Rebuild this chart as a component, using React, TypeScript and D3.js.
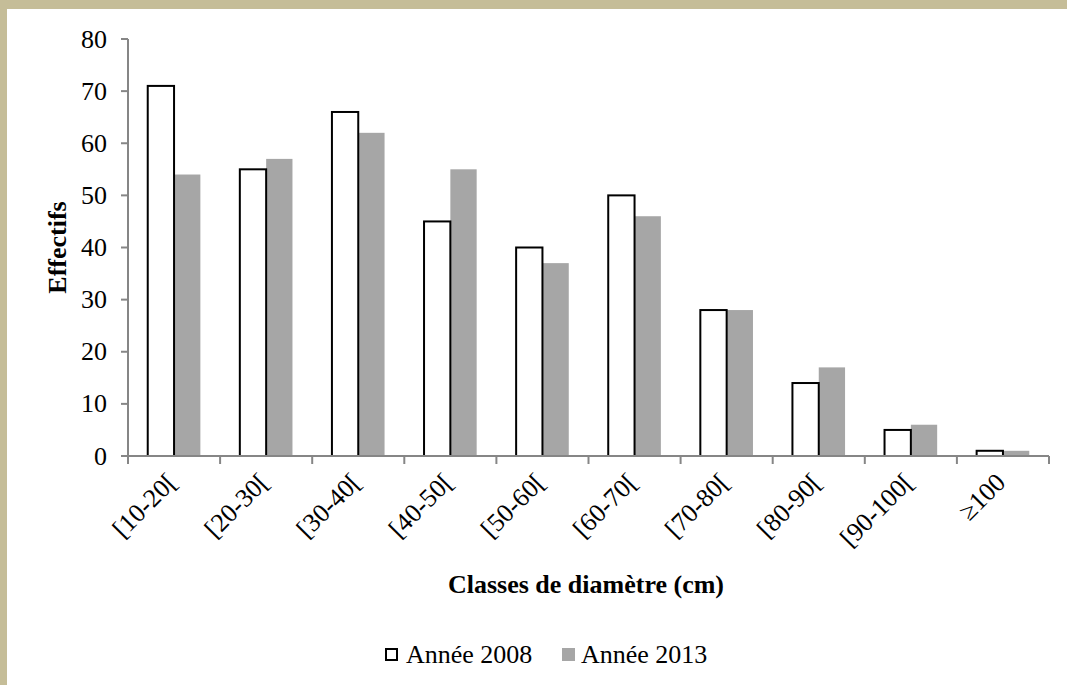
import React from "react";
import * as d3 from "d3";

const categories = ["[10-20[", "[20-30[", "[30-40[", "[40-50[", "[50-60[", "[60-70[", "[70-80[", "[80-90[", "[90-100[", "≥100"];
const values2008 = [71, 55, 66, 45, 40, 50, 28, 14, 5, 1];
const values2013 = [54, 57, 62, 55, 37, 46, 28, 17, 6, 1];
const seriesNames = ["Année 2008", "Année 2013"];
const yTicks = [0, 10, 20, 30, 40, 50, 60, 70, 80];

const W = 1067;
const H = 685;
const left = 128;
const right = 1049;
const top = 39;
const bottom = 456;
const FONT = "'Liberation Serif', 'Times New Roman', serif";
const AXIS = "#868686";
const GRAY = "#A6A6A6";

export default function App() {
  const x = d3.scaleBand<string>().domain(categories).range([left, right]).paddingInner(0).paddingOuter(0);
  const y = d3.scaleLinear().domain([0, 80]).range([bottom, top]);
  const bw = x.bandwidth();
  const barW = bw / 3.5;
  const inner = d3.scaleBand<string>().domain(["a", "b"]).range([bw / 2 - barW, bw / 2 + barW]);

  return (
    <svg width={W} height={H} style={{ position: "absolute", left: 0, top: 0, background: "#fff" }} fontFamily={FONT}>
      <rect x={0} y={0} width={W} height={H} fill="#fff" />
      <rect x={0} y={0} width={W} height={9} fill="#C5BD98" />
      <rect x={0} y={0} width={7} height={H} fill="#C5BD98" />

      {/* bars */}
      {categories.map((c, i) => {
        const x0 = x(c)!;
        const v1 = values2008[i];
        const v2 = values2013[i];
        return (
          <g key={c}>
            <rect x={x0 + inner("b")!} y={y(v2)} width={inner.bandwidth()} height={y(0) - y(v2)} fill={GRAY} />
            <rect x={x0 + inner("a")!} y={y(v1)} width={inner.bandwidth()} height={y(0) - y(v1)} fill="#fff" stroke="#000" strokeWidth={2} />
          </g>
        );
      })}

      {/* y axis */}
      <line x1={left} x2={left} y1={top} y2={bottom} stroke={AXIS} strokeWidth={2} />
      {yTicks.map((t) => (
        <g key={t}>
          <line x1={left - 7} x2={left} y1={y(t)} y2={y(t)} stroke={AXIS} strokeWidth={2} />
          <text x={107} y={y(t)} dy="0.33em" textAnchor="end" fontSize={26} fill="#000">
            {t}
          </text>
        </g>
      ))}

      {/* x axis */}
      <line x1={left} x2={right} y1={bottom} y2={bottom} stroke={AXIS} strokeWidth={2} />
      {d3.range(categories.length + 1).map((i) => {
        const xx = left + i * bw;
        return <line key={i} x1={xx} x2={xx} y1={bottom} y2={bottom + 8} stroke={AXIS} strokeWidth={2} />;
      })}
      {categories.map((c) => {
        const cx = x(c)! + bw / 2;
        return (
          <text key={c} transform={`translate(${cx + 4},${bottom + 28}) rotate(-45)`} textAnchor="end" fontSize={26} fill="#000">
            {c}
          </text>
        );
      })}

      {/* axis titles */}
      <text x={586} y={593} textAnchor="middle" fontSize={26} fontWeight="bold" fill="#000">
        Classes de diamètre (cm)
      </text>
      <text transform="translate(66,247.5) rotate(-90)" textAnchor="middle" fontSize={26} fontWeight="bold" fill="#000">
        Effectifs
      </text>

      {/* legend */}
      <rect x={386} y={649} width={11} height={11} fill="#fff" stroke="#000" strokeWidth={2} />
      <text x={406} y={663} fontSize={26} fill="#000">{seriesNames[0]}</text>
      <rect x={562} y={648} width={13} height={13} fill={GRAY} />
      <text x={581} y={663} fontSize={26} fill="#000">{seriesNames[1]}</text>
    </svg>
  );
}
